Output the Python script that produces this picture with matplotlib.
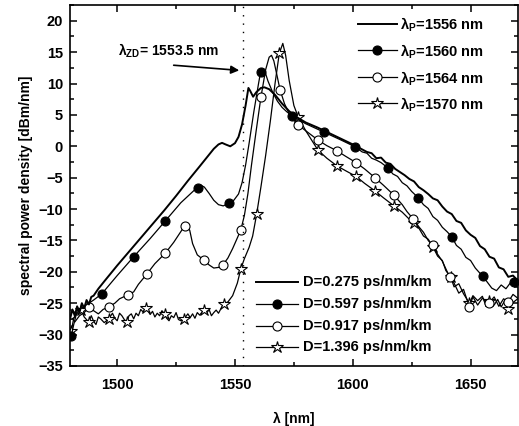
import matplotlib
matplotlib.use("Agg")
import matplotlib.pyplot as plt
from matplotlib.ticker import MultipleLocator

plt.rcParams['font.family'] = ['Liberation Sans', 'DejaVu Sans']
plt.rcParams['font.weight'] = 'bold'
plt.rcParams['mathtext.fontset'] = 'custom'
plt.rcParams['mathtext.rm'] = 'Liberation Sans:bold'
plt.rcParams['mathtext.bf'] = 'Liberation Sans:bold'
plt.rcParams['mathtext.it'] = 'Liberation Sans:bold'

# ---- data (wavelength nm, spectral power density dBm/nm) ----
x_1556 = [1480,1481,1482,1483,1484,1485,1486,1487,1488,1489,1490,1492,1495,1500,1505,1510,1515,1520,1525,1530,1535,1538,1541,1543,1544.5,1546,1548,1550,1551.5,1553,1554.5,1555.7,1556.5,1557.7,1559,1561,1562.5,1564.5,1567,1570,1573,1576,1580,1585,1590,1595,1600,1603,1606,1608,1610,1612,1614,1616,1618,1620,1622,1624,1626,1628,1630,1632,1634,1636,1638,1640,1642,1644,1646,1648,1650,1652,1654,1656,1658,1660,1662,1664,1666,1668,1670]
y_1556 = [-27.5,-26,-27,-25.5,-26.5,-25,-25.8,-24.5,-25.2,-24,-23.8,-22.7,-21.3,-19,-16.8,-14.6,-12.4,-10.2,-7.9,-5.5,-3.2,-1.8,-0.4,0.3,0.55,0.3,0.0,0.5,1.5,3.5,6.5,9.3,8.8,7.9,8.6,9.3,9.4,9.1,8.2,6.8,5.6,4.7,3.8,3.0,2.1,1.2,0.3,-0.3,-0.9,-1.1,-1.9,-1.8,-2.6,-2.8,-3.6,-4.1,-4.6,-5.2,-5.6,-6.5,-7.0,-7.6,-8.3,-8.6,-9.6,-10.4,-10.8,-11.9,-12.2,-13.4,-14.1,-14.6,-15.9,-16.4,-17.6,-17.9,-19.3,-19.6,-20.8,-20.6,-21.4]

x_1560 = [1480.5,1481.5,1482.5,1484,1486,1488,1490,1493.5,1500,1507,1514,1520.4,1527,1531,1533,1534.2,1535.5,1537,1539,1541,1543,1545,1547.3,1549.5,1551.5,1553,1554.5,1556,1558,1560,1560.9,1561.8,1562.8,1564,1566,1568,1570,1572,1574.4,1580,1587.8,1595,1601.1,1604,1606,1608,1610,1612,1614.8,1617,1619,1621,1623,1625,1627.8,1630,1632,1634,1636,1638,1640,1642,1644,1646,1648,1650,1652,1655.1,1657,1659,1661,1663,1665,1667,1668.5,1670]
y_1560 = [-30.3,-28.5,-27,-26,-25.5,-25,-24.5,-23.5,-20.6,-17.6,-14.7,-11.9,-9.0,-7.6,-6.9,-6.6,-6.2,-6.5,-7.5,-8.6,-9.3,-9.5,-9.1,-8.6,-7.6,-5.8,-3,0.5,5.5,10.0,11.9,12.3,11.8,10.4,8.6,7.2,6.2,5.5,4.8,3.6,2.25,1.0,-0.1,-0.9,-1.1,-1.9,-2.2,-2.6,-3.4,-4.4,-4.8,-5.8,-6.3,-7.2,-8.2,-9.3,-9.9,-11.2,-11.8,-12.9,-13.6,-14.4,-15.8,-16.4,-17.7,-18.2,-19.4,-20.7,-21.6,-22.6,-23.0,-22.1,-22.7,-21.7,-21.6,-21.2]

x_1564 = [1480,1482,1484,1486,1488.2,1490,1492,1494,1496.4,1499,1501,1504.4,1507,1509,1512.5,1516,1520.5,1524,1527,1528.6,1529.6,1530.8,1532,1534,1536.7,1539,1541,1543,1544.9,1547,1549,1551,1552.5,1554,1555.5,1557,1559,1561,1563,1564.5,1565.5,1566.5,1568,1569.1,1571,1573,1576.8,1581,1585.2,1589,1593.2,1597,1601.4,1605,1609.4,1613,1617.5,1621,1623,1625.7,1628,1630,1632,1633.9,1636,1638,1641.2,1643,1645,1647,1649.5,1651,1653,1655,1657.8,1660,1662,1664,1666,1668,1670]
y_1564 = [-26.8,-28,-27,-26.5,-25.6,-26.2,-26.7,-26,-25.6,-25,-24.3,-23.7,-23.2,-22,-20.4,-18.7,-17.0,-15.3,-13.6,-12.7,-12.6,-13.4,-15.5,-17.3,-18.1,-18.9,-19.4,-19.3,-18.9,-17.8,-16.3,-14.6,-13.3,-11,-7.5,-3,2.5,7.8,12.2,14.2,14.5,13.6,11,9.05,6.8,5.2,3.4,2.2,1.0,0.1,-0.7,-1.6,-2.6,-3.6,-5.0,-6.2,-7.8,-9.3,-10.4,-11.6,-12.8,-13.7,-15.0,-15.8,-17.2,-18.3,-20.9,-21.8,-23.4,-22.8,-25.6,-24.0,-25.3,-24.2,-25.0,-24.0,-25.5,-24.3,-24.8,-23.6,-24.2]

x_1570 = [1480.5,1481.5,1482.5,1483.5,1484.7,1486,1487.9,1489,1490,1491,1492,1493,1494.5,1496.4,1498,1499,1500,1501,1502,1503,1504.1,1505,1506,1507,1508,1509,1510,1511,1512.1,1513,1514,1515,1516,1517,1518,1519,1520.1,1521,1522,1523,1524,1525,1526,1527,1528.3,1529,1530,1531,1532,1533,1534,1535,1536.7,1538,1539,1540,1541,1542,1543,1544,1545.2,1547,1549,1551,1552.5,1554,1556,1557.5,1559.2,1561,1563,1565,1567,1568.8,1570.3,1571.5,1573,1575,1576.8,1580,1585.2,1589,1593.2,1597,1601.4,1605,1609.4,1613,1617.5,1621,1625.8,1628,1630,1632,1634,1636,1638,1639.5,1641.5,1643,1645,1647,1649.5,1651,1653,1655,1656.5,1658,1660,1661.5,1663,1664.5,1666,1668,1670]
y_1570 = [-29.5,-27.5,-26.8,-25.8,-26.1,-27.2,-28.0,-27.0,-27.9,-28.4,-27.2,-27.5,-28.1,-27.5,-26.6,-27.4,-27.8,-26.6,-27.0,-27.6,-28.0,-27.0,-26.7,-27.5,-26.6,-27.0,-26.0,-26.4,-25.7,-26.2,-26.8,-26.3,-27.2,-26.6,-27.0,-26.2,-26.7,-27.4,-27.8,-27.0,-27.3,-26.5,-27.6,-27.8,-27.5,-27.2,-26.7,-27.3,-26.7,-27.4,-26.5,-26.9,-26.1,-26.6,-26.0,-27.0,-26.5,-26.1,-26.6,-25.9,-25.1,-24.8,-23.8,-21.8,-19.5,-17.9,-16.1,-14.3,-10.8,-6.5,-1.5,4.0,10.0,14.8,16.4,14.5,10.5,6.5,4.7,2.5,-0.6,-1.9,-3.1,-3.9,-4.8,-5.9,-7.1,-8.2,-9.5,-10.5,-12.3,-13.0,-14.3,-14.8,-16.0,-17.5,-18.2,-19.8,-20.8,-22.4,-21.9,-23.5,-25.0,-23.8,-24.6,-23.9,-25.4,-24.6,-25.3,-24.4,-25.6,-24.6,-26.0,-24.9,-24.3]

# wavelengths at which symbols are drawn
mk_1560 = [1480.5,1493.5,1507,1520.4,1534.2,1547.3,1560.9,1574.4,1587.8,1601.1,1614.8,1627.8,1642,1655.1,1668.5]
mk_1564 = [1480,1488.2,1496.4,1504.4,1512.5,1520.5,1528.6,1536.7,1544.9,1552.5,1561,1569.1,1576.8,1585.2,1593.2,1601.4,1609.4,1617.5,1625.7,1633.9,1641.2,1649.5,1657.8,1666]
mk_1570 = [1480.5,1484.7,1487.9,1496.4,1504.1,1512.1,1520.1,1528.3,1536.7,1545.2,1552.5,1559.2,1568.8,1576.8,1585.2,1593.2,1601.4,1609.4,1617.5,1625.8,1634,1641.5,1649.5,1658,1666]

pump_labels = ['1556', '1560', '1564', '1570']
disp_labels = ['D=0.275 ps/nm/km', 'D=0.597 ps/nm/km', 'D=0.917 ps/nm/km', 'D=1.396 ps/nm/km']
lambda_zd = 1553.5

fig = plt.figure(figsize=(5.19, 4.26), dpi=100)
ax = fig.add_axes([0.135, 0.141, 0.8625, 0.847])

def idx(xs, marks):
    return [xs.index(m) for m in marks]

styles = [
    dict(color='black', lw=1.4, marker=None),
    dict(color='black', lw=0.9, marker='o', ms=6.5, mfc='black', mec='black', mew=0.8),
    dict(color='black', lw=0.9, marker='o', ms=6.5, mfc='white', mec='black', mew=0.8),
    dict(color='black', lw=0.9, marker='*', ms=9, mfc='white', mec='black', mew=0.8),
]

ax.plot(x_1570, y_1570, markevery=idx(x_1570, mk_1570), **styles[3])
ax.plot(x_1564, y_1564, markevery=idx(x_1564, mk_1564), **styles[2])
ax.plot(x_1560, y_1560, markevery=idx(x_1560, mk_1560), **styles[1])
ax.plot(x_1556, y_1556, **styles[0])

ax.axvline(lambda_zd, color='black', lw=1.0, ls=(0, (1, 5)))

ax.set_xlim(1480, 1670)
ax.set_ylim(-35, 22.5)
ax.xaxis.set_major_locator(MultipleLocator(50))
ax.xaxis.set_minor_locator(MultipleLocator(25))
ax.yaxis.set_major_locator(MultipleLocator(5))
ax.yaxis.set_minor_locator(MultipleLocator(2.5))
ax.tick_params(which='both', direction='in', top=True, right=True, width=1.1)
ax.tick_params(which='major', length=5, labelsize=10.5)
ax.tick_params(axis='x', which='major', pad=9)
ax.tick_params(axis='y', which='major', pad=5)
ax.tick_params(which='minor', length=2.8)
for s in ax.spines.values():
    s.set_linewidth(1.2)
for lab in ax.get_xticklabels() + ax.get_yticklabels():
    lab.set_fontweight('bold')

ax.set_xlabel('λ [nm]', fontsize=10, fontweight='bold', labelpad=14)
ax.set_ylabel('spectral power density [dBm/nm]', fontsize=10, fontweight='bold', labelpad=4)

ax.annotate(r'$\mathrm{λ}_{\mathrm{ZD}}$= 1553.5 nm', xy=(1551.8, 12.1), xytext=(1500.3, 14.5),
            fontsize=10, fontweight='bold', va='baseline', ha='left',
            arrowprops=dict(arrowstyle='-|>', color='black', lw=1.2, mutation_scale=12,
                            shrinkA=0, shrinkB=0, relpos=(0.55, -0.3)))

# legends drawn manually in axes coordinates
def leg_row(x0, x1, y, st, text, tx, dy=0.0):
    ax.plot([x0, x1], [y, y], transform=ax.transAxes, color='black', lw=st['lw'], clip_on=False)
    if st['marker'] is not None:
        ax.plot([(x0 + x1) / 2], [y], transform=ax.transAxes, marker=st['marker'], ms=st['ms'],
                mfc=st['mfc'], mec=st['mec'], mew=st['mew'], ls='none', clip_on=False)
    ax.text(tx, y + dy, text, transform=ax.transAxes, fontsize=10.5, fontweight='bold',
            va='center', ha='left')

rows1 = [0.949, 0.875, 0.800, 0.728]
for st, lab, yy in zip(styles, pump_labels, rows1):
    leg_row(0.643, 0.730, yy, st, r'$\mathrm{λ}_{\mathrm{P}}$=' + lab + ' nm', 0.737, dy=-0.004)

rows2 = [0.2335, 0.171, 0.111, 0.0535]
for st, lab, yy in zip(styles, disp_labels, rows2):
    leg_row(0.415, 0.509, yy, st, lab, 0.520)

fig.savefig('out.png', dpi=100)
